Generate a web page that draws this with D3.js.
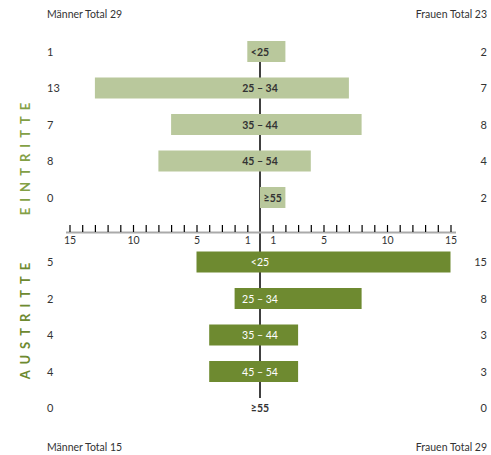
<!DOCTYPE html>
<html>
<head>
<meta charset="utf-8">
<script src="https://cdn.jsdelivr.net/npm/d3@7"></script>
<style>
  body { margin: 0; background: #fff; }
  svg text { font-family: Lato, "Open Sans", sans-serif; }
</style>
</head>
<body>
<svg id="chart" width="491" height="455"></svg>
<script>
var ageGroups = ["<25", "25 – 34", "35 – 44", "45 – 54", "≥55"];
var eintritteMen = [1, 13, 7, 8, 0];
var eintritteWomen = [2, 7, 8, 4, 2];
var austritteMen = [5, 2, 4, 4, 0];
var austritteWomen = [15, 8, 3, 3, 0];
var tickLabels = [15, 10, 5, 1];
var totals = { einMen: 29, einWomen: 23, ausMen: 15, ausWomen: 29 };

var light = "#b9c89c", dark = "#6e8a30";

var svg = d3.select("#chart");

var x = d3.scaleLinear().domain([-15, 15]).range([69.5, 450.5]);
var cx = x(0);

var yEin = d3.scalePoint().domain(ageGroups).range([51.5, 197.5]);
var yAus = d3.scalePoint().domain(ageGroups).range([262, 408]);
var barH = 21;

// center line sits behind the bars
svg.append("line")
  .attr("x1", cx).attr("x2", cx)
  .attr("y1", 42).attr("y2", 398)
  .attr("stroke", "#000").attr("stroke-width", 1.5);

function drawGroup(y, men, women, fill, labelColor, labelWeight) {
  var g = svg.append("g");
  ageGroups.forEach(function(a, i) {
    var m = men[i], w = women[i];
    var lx = cx;
    if (m + w > 0) {
      g.append("rect")
        .attr("x", x(-m))
        .attr("y", y(a) - barH / 2)
        .attr("width", x(w) - x(-m))
        .attr("height", barH)
        .attr("fill", fill);
      if (m === 0) lx = (x(0) + x(w)) / 2;
    }
    g.append("text")
      .attr("x", lx)
      .attr("y", y(a) + 4)
      .attr("text-anchor", "middle")
      .attr("font-size", 10.5)
      .attr("font-weight", m + w > 0 ? labelWeight : 700)
      .attr("fill", m + w > 0 ? labelColor : "#333")
      .text(a);
    g.append("text")
      .attr("x", 47)
      .attr("y", y(a) + 4)
      .attr("font-size", 11)
      .attr("fill", "#333")
      .text(m);
    g.append("text")
      .attr("x", 487)
      .attr("y", y(a) + 4)
      .attr("text-anchor", "end")
      .attr("font-size", 11)
      .attr("fill", "#333")
      .text(w);
  });
}

drawGroup(yEin, eintritteMen, eintritteWomen, light, "#333", 700);
drawGroup(yAus, austritteMen, austritteWomen, dark, "#fff", 400);

// axis
var axisY = 232;
var axis = d3.axisBottom(x)
  .tickValues(d3.range(-15, 16).filter(function(d) { return d !== 0; }))
  .tickSizeInner(-7)
  .tickSizeOuter(0)
  .tickPadding(5)
  .tickFormat(function(d) { return tickLabels.indexOf(Math.abs(d)) >= 0 ? Math.abs(d) : ""; });

var ag = svg.append("g").attr("transform", "translate(0," + axisY + ")").call(axis);
ag.select(".domain").remove();
ag.insert("line", ":first-child")
  .attr("x1", 66).attr("x2", 456)
  .attr("y1", 0.5).attr("y2", 0.5)
  .attr("stroke", "#aaa").attr("stroke-width", 2.2);
ag.selectAll(".tick line").attr("stroke", "#000").attr("stroke-width", 1.2);
ag.selectAll(".tick text").attr("font-size", 10.5).attr("fill", "#333")
  .attr("font-family", "Lato, sans-serif");

// vertical group titles
function vtitle(txt, yc, color) {
  svg.append("text")
    .attr("transform", "translate(30," + yc + ") rotate(-90)")
    .attr("text-anchor", "middle")
    .attr("font-size", 13)
    .attr("font-weight", 700)
    .attr("letter-spacing", 6)
    .attr("fill", color)
    .text(txt);
}
vtitle("EINTRITTE", 156, "#83a045");
vtitle("AUSTRITTE", 318, dark);

// totals
function total(txt, xx, yy, anchor) {
  svg.append("text")
    .attr("x", xx).attr("y", yy)
    .attr("text-anchor", anchor)
    .attr("font-size", 10.5)
    .attr("fill", "#333")
    .text(txt);
}
total("Männer Total " + totals.einMen, 47, 18, "start");
total("Frauen Total " + totals.einWomen, 487, 18, "end");
total("Männer Total " + totals.ausMen, 47, 451, "start");
total("Frauen Total " + totals.ausWomen, 487, 451, "end");
</script>
</body>
</html>
